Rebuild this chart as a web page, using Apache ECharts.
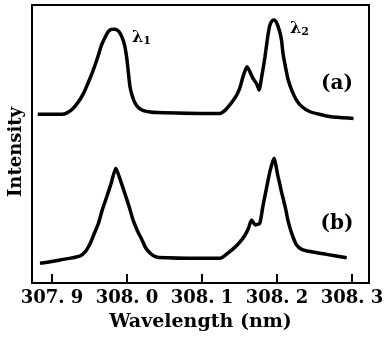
<!DOCTYPE html>
<html>
<head>
<meta charset="utf-8">
<script src="https://cdn.jsdelivr.net/npm/echarts@6/dist/echarts.min.js"></script>
<style>
  html, body { margin: 0; padding: 0; background: #fff; }
  #chart { width: 387px; height: 338px; }
</style>
</head>
<body>
<div id="chart"></div>
<script>
// 波长刻度
var tickValues = [307.9, 308.0, 308.1, 308.2, 308.3];
var tickLabels = ['307. 9', '308. 0', '308. 1', '308. 2', '308. 3'];

// curve (a): [wavelength nm, intensity a.u.]
var curveA = [
    [307.881, 60.7], [307.913, 60.7], [307.920, 61.2], [307.928, 62.8],
    [307.935, 65.1], [307.942, 68.2], [307.948, 71.9], [307.955, 76.6],
    [307.961, 81.3], [307.966, 85.6], [307.971, 88.5], [307.975, 90.4],
    [307.979, 91.2], [307.984, 91.3], [307.989, 90.5], [307.993, 88.6],
    [307.997, 85.3], [308.000, 80.2], [308.002, 75.2], [308.004, 70.6],
    [308.007, 67.3], [308.011, 64.6], [308.016, 62.9], [308.022, 62.0],
    [308.031, 61.5], [308.040, 61.3], [308.097, 61.0], [308.124, 61.0],
    [308.131, 62.2], [308.136, 63.7], [308.142, 65.8], [308.147, 68.0],
    [308.151, 70.6], [308.155, 74.5], [308.160, 77.8], [308.164, 75.9],
    [308.168, 73.6], [308.173, 71.6], [308.176, 69.4], [308.180, 74.8],
    [308.184, 81.4], [308.187, 87.4], [308.190, 92.2], [308.193, 94.2],
    [308.196, 94.6], [308.199, 93.9], [308.203, 91.0], [308.206, 87.4],
    [308.208, 82.6], [308.211, 78.1], [308.215, 73.0], [308.220, 69.1],
    [308.226, 65.8], [308.233, 63.5], [308.244, 61.6], [308.255, 60.8],
    [308.266, 60.1], [308.284, 59.5], [308.302, 59.2]
];

// curve (b)
var curveB = [
    [307.884, 7.1], [307.911, 8.3], [307.937, 9.7], [307.945, 11.5],
    [307.951, 14.3], [307.956, 17.6], [307.962, 21.5], [307.967, 26.3],
    [307.973, 31.0], [307.979, 36.0], [307.985, 41.3], [307.991, 37.1],
    [307.997, 32.3], [308.003, 27.3], [308.008, 22.7], [308.014, 18.7],
    [308.020, 15.5], [308.025, 12.6], [308.031, 10.7], [308.036, 9.7],
    [308.042, 9.2], [308.097, 8.9], [308.124, 8.9], [308.137, 11.3],
    [308.144, 12.9], [308.151, 14.9], [308.157, 17.1], [308.162, 19.7],
    [308.166, 22.7], [308.171, 20.9], [308.177, 21.5], [308.181, 27.3],
    [308.186, 34.1], [308.191, 40.6], [308.196, 44.9], [308.201, 38.8],
    [308.206, 32.8], [308.211, 27.3], [308.215, 22.1], [308.220, 17.6],
    [308.226, 13.7], [308.233, 12.1], [308.244, 11.3], [308.266, 10.3],
    [308.293, 9.1]
];

var serif = '"DejaVu Serif", "Liberation Serif", serif';

var lambdaRich = {
    l: { fontFamily: serif, fontWeight: 'bold', fontSize: 16, color: '#000' },
    s: { fontFamily: serif, fontWeight: 'bold', fontSize: 11, color: '#000', padding: [6, 0, 0, 0] }
};

var chart = echarts.init(document.getElementById('chart'));
chart.setOption({
    animation: false,
    grid: {
        left: 32, right: 18, top: 5, bottom: 55,
        show: true, borderColor: '#000', borderWidth: 2, backgroundColor: 'transparent'
    },
    xAxis: {
        type: 'value',
        min: 307.8733,
        max: 308.3227,
        name: 'Wavelength (nm)',
        nameLocation: 'middle',
        nameGap: 30,
        nameTextStyle: { color: '#000', fontFamily: serif, fontWeight: 'bold', fontSize: 19 },
        axisLine: { show: true, lineStyle: { color: '#000', width: 2 } },
        axisTick: {
            show: true, inside: true, length: 9,
            customValues: tickValues,
            lineStyle: { color: '#000', width: 2 }
        },
        axisLabel: {
            customValues: tickValues,
            margin: 6,
            color: '#000', fontFamily: serif, fontWeight: 'bold', fontSize: 18,
            formatter: function (v) {
                for (var i = 0; i < tickValues.length; i++) {
                    if (Math.abs(v - tickValues[i]) < 1e-6) return tickLabels[i];
                }
                return '';
            }
        },
        splitLine: { show: false }
    },
    yAxis: {
        type: 'value',
        min: 0,
        max: 100,
        axisLine: { show: false },
        axisTick: { show: false },
        axisLabel: { show: false },
        splitLine: { show: false }
    },
    graphic: [
        {
            type: 'text', x: 16, y: 152, rotation: Math.PI / 2,
            style: {
                text: 'Intensity', fill: '#000', font: 'bold 18px ' + serif,
                align: 'center', verticalAlign: 'middle'
            }
        },
        { type: 'text', left: 132, top: 30, style: { text: '{l|λ}{s|1}', rich: lambdaRich } },
        { type: 'text', left: 290, top: 21, style: { text: '{l|λ}{s|2}', rich: lambdaRich } },
        {
            type: 'text', x: 337, y: 84,
            style: { text: '(a)', fill: '#000', font: 'bold 20px ' + serif, align: 'center', verticalAlign: 'middle' }
        },
        {
            type: 'text', x: 337, y: 224,
            style: { text: '(b)', fill: '#000', font: 'bold 20px ' + serif, align: 'center', verticalAlign: 'middle' }
        }
    ],
    series: [
        {
            type: 'line', data: curveA, smooth: 0.2, showSymbol: false,
            lineStyle: { color: '#000', width: 3.5 }
        },
        {
            type: 'line', data: curveB, smooth: 0.2, showSymbol: false,
            lineStyle: { color: '#000', width: 3.5 }
        }
    ]
});
</script>
</body>
</html>
